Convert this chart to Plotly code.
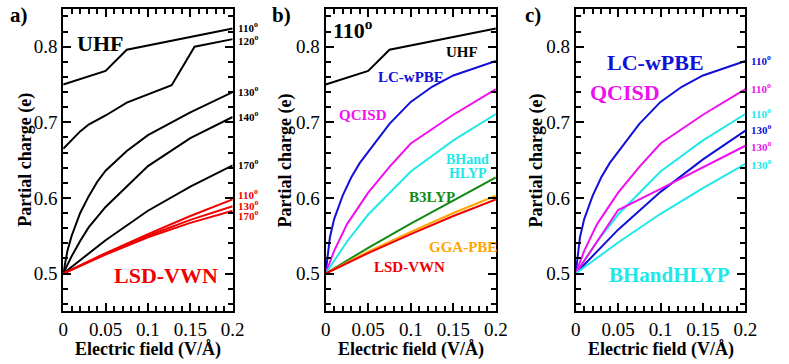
import plotly.graph_objects as go

# ---- data ----
# panel a: UHF (black) and LSD-VWN (red) for several angles
uhf110_x = [0, 0.01, 0.02, 0.03, 0.05, 0.075, 0.1, 0.125, 0.15, 0.175, 0.2]
uhf110_y = [0.75, 0.7536, 0.7572, 0.7608, 0.768, 0.796, 0.8015, 0.807, 0.8125, 0.818, 0.824]
uhf120_x = [0, 0.01, 0.02, 0.03, 0.05, 0.075, 0.1, 0.128, 0.155, 0.2]
uhf120_y = [0.665, 0.677, 0.688, 0.697, 0.709, 0.726, 0.737, 0.749, 0.800, 0.81]
uhf130_x = [0, 0.005, 0.01, 0.02, 0.03, 0.04, 0.05, 0.075, 0.1, 0.15, 0.2]
uhf130_y = [0.5, 0.53, 0.55, 0.58, 0.602, 0.621, 0.636, 0.662, 0.683, 0.713, 0.74]
uhf140_x = [0, 0.01, 0.02, 0.03, 0.05, 0.1, 0.15, 0.2]
uhf140_y = [0.5, 0.523, 0.543, 0.561, 0.588, 0.642, 0.679, 0.707]
coarse_x = [0, 0.05, 0.1, 0.15, 0.2]
uhf170_y = [0.5, 0.544, 0.583, 0.615, 0.643]
lsd110_y = [0.5, 0.527, 0.552, 0.576, 0.598]
lsd130_y = [0.5, 0.526, 0.55, 0.571, 0.589]
lsd170_y = [0.5, 0.525, 0.548, 0.567, 0.583]

# panel b: 110 deg, several methods
lcwpbe110_x = [0, 0.005, 0.01, 0.02, 0.03, 0.04, 0.05, 0.075, 0.1, 0.125, 0.15, 0.175, 0.2]
lcwpbe110_y = [0.5, 0.548, 0.572, 0.603, 0.627, 0.646, 0.661, 0.698, 0.727, 0.747, 0.762, 0.772, 0.781]
qcisd110_x = [0, 0.01, 0.025, 0.05, 0.075, 0.1, 0.15, 0.2]
qcisd110_y = [0.5, 0.53, 0.565, 0.607, 0.641, 0.672, 0.71, 0.744]
bhh110_x = [0, 0.025, 0.05, 0.1, 0.15, 0.2]
bhh110_y = [0.5, 0.542, 0.578, 0.635, 0.676, 0.711]
b3lyp110_y = [0.5, 0.534, 0.566, 0.597, 0.627]
pbe110_y = [0.5, 0.529, 0.555, 0.58, 0.603]

# panel c: 130 deg for the hybrid/correlated methods
lcwpbe130_y = [0.5, 0.558, 0.608, 0.651, 0.689]
qcisd130_y = [0.5, 0.584, 0.612, 0.641, 0.669]
bhh130_y = [0.5, 0.541, 0.579, 0.613, 0.645]

BLACK = "#000000"
RED = "#f00000"
BLUE = "#1010d8"
MAGENTA = "#ee10ee"
CYAN = "#20e8e8"
GREEN = "#138a13"
ORANGE = "#ffa500"

FONT = "Liberation Serif, Times New Roman, Times, serif"
W, H = 789, 364

fig = go.Figure()


def add_line(x, y, color, n):
    fig.add_trace(go.Scatter(
        x=x, y=y, mode="lines", line={"color": color, "width": 2},
        xaxis=f"x{n}" if n > 1 else "x", yaxis=f"y{n}" if n > 1 else "y",
        showlegend=False, hoverinfo="skip",
    ))


# panel a
for xs, ys in [(uhf110_x, uhf110_y), (uhf120_x, uhf120_y), (uhf130_x, uhf130_y),
               (uhf140_x, uhf140_y), (coarse_x, uhf170_y)]:
    add_line(xs, ys, BLACK, 1)
for ys in [lsd110_y, lsd130_y, lsd170_y]:
    add_line(coarse_x, ys, RED, 1)

# panel b
add_line(uhf110_x, uhf110_y, BLACK, 2)
add_line(lcwpbe110_x, lcwpbe110_y, BLUE, 2)
add_line(qcisd110_x, qcisd110_y, MAGENTA, 2)
add_line(bhh110_x, bhh110_y, CYAN, 2)
add_line(coarse_x, b3lyp110_y, GREEN, 2)
add_line(coarse_x, pbe110_y, ORANGE, 2)
add_line(coarse_x, lsd110_y, RED, 2)

# panel c
add_line(lcwpbe110_x, lcwpbe110_y, BLUE, 3)
add_line(qcisd110_x, qcisd110_y, MAGENTA, 3)
add_line(bhh110_x, bhh110_y, CYAN, 3)
add_line(coarse_x, lcwpbe130_y, BLUE, 3)
add_line(coarse_x, qcisd130_y, MAGENTA, 3)
add_line(coarse_x, bhh130_y, CYAN, 3)

# plot areas in pixels
left_px = [59.5, 327.7, 583.3]
right_px = [232.7, 501.7, 756.7]
top_px, bot_px = 8.9, 311.3

axis_common = dict(
    showline=True, linecolor="black", linewidth=2, mirror="allticks",
    ticks="inside", ticklen=8, tickwidth=1.5, tickcolor="black",
    showgrid=False, zeroline=False,
    tickfont={"family": FONT, "size": 19, "color": "black"},
)

layout = dict(
    width=W, height=H, margin={"l": 0, "r": 0, "t": 0, "b": 0},
    paper_bgcolor="white", plot_bgcolor="white",
    font={"family": FONT, "color": "black"},
)
for i in range(3):
    sx = "" if i == 0 else str(i + 1)
    layout[f"xaxis{sx}"] = dict(
        axis_common, domain=[left_px[i] / W, right_px[i] / W], range=[0, 0.2],
        tickvals=[0, 0.05, 0.1, 0.15, 0.2], ticktext=["0", "0.05", "0.1", "0.15", "0.2"],
        minor={"dtick": 0.01, "ticks": "inside", "ticklen": 5, "tickwidth": 1.5,
               "tickcolor": "black"},
        anchor=f"y{sx}",
    )
    layout[f"yaxis{sx}"] = dict(
        axis_common, domain=[1 - bot_px / H, 1 - top_px / H], range=[0.45, 0.85],
        tickvals=[0.5, 0.6, 0.7, 0.8], ticktext=["0.5", "0.6", "0.7", "0.8"],
        minor={"tickvals": [0.46, 0.48, 0.52, 0.54, 0.56, 0.58, 0.62, 0.64, 0.66, 0.68,
                            0.72, 0.74, 0.76, 0.78, 0.82, 0.84],
               "ticks": "inside", "ticklen": 5, "tickwidth": 1.5, "tickcolor": "black"},
        anchor=f"x{sx}",
    )
fig.update_layout(**layout)

anns = []


def px(x, y, text, color, size, xanchor="center"):
    anns.append(dict(
        text=text, x=x / W, y=1 - y / H, xref="paper", yref="paper",
        showarrow=False, xanchor=xanchor, yanchor="middle",
        font={"family": FONT, "size": size, "color": color},
    ))


def side(n, text, yv, color):
    sx = "" if n == 1 else str(n)
    anns.append(dict(
        text=text, x=1.02, y=yv, xref=f"x{sx} domain", yref=f"y{sx}",
        showarrow=False, xanchor="left", yanchor="middle",
        font={"family": FONT, "size": 11, "color": color},
    ))


deg = "<sup>o</sup>"

# panel letters
px(14, 15, "<b>a)</b>", BLACK, 21)
px(283, 15, "<b>b)</b>", BLACK, 21)
px(540, 15, "<b>c)</b>", BLACK, 21)

# axis titles
for i, xc in enumerate([21, 286.5, 543]):
    anns.append(dict(
        text="<b>Partial charge (e)</b>", x=xc / W, y=1 - (top_px + bot_px) / 2 / H,
        xref="paper", yref="paper", showarrow=False, textangle=-90,
        xanchor="center", yanchor="middle",
        font={"family": FONT, "size": 18, "color": "black"},
    ))
    px((left_px[i] + right_px[i]) / 2, 349, "<b>Electric field (V/Å)</b>", BLACK, 18)

# panel a texts
px(97, 43, "<b>UHF</b>", BLACK, 22)
px(165, 275, "<b>LSD-VWN</b>", RED, 22)
for ang, yv, col in [("110", 0.826, BLACK), ("120", 0.809, BLACK), ("130", 0.741, BLACK),
                     ("140", 0.708, BLACK), ("170", 0.645, BLACK),
                     ("110", 0.605, RED), ("130", 0.591, RED), ("170", 0.577, RED)]:
    side(1, f"<b>{ang}{deg}</b>", yv, col)

# panel b texts
px(356, 29, "<b>110" + deg + "</b>", BLACK, 22)
px(467, 52, "<b>UHF</b>", BLACK, 15)
px(415, 77, "<b>LC-wPBE</b>", BLUE, 15)
px(366, 115, "<b>QCISD</b>", MAGENTA, 15)
px(473, 159, "<b>BHand</b>", CYAN, 14)
px(473, 173, "<b>HLYP</b>", CYAN, 14)
px(436, 197, "<b>B3LYP</b>", GREEN, 15)
px(468, 247, "<b>GGA-PBE</b>", ORANGE, 15)
px(413, 267, "<b>LSD-VWN</b>", RED, 15)

# panel c texts
px(665, 62, "<b>LC-wPBE</b>", BLUE, 22)
px(634, 92, "<b>QCISD</b>", MAGENTA, 22)
px(679, 275, "<b>BHandHLYP</b>", CYAN, 21)
for ang, yv, col in [("110", 0.782, BLUE), ("110", 0.745, MAGENTA), ("110", 0.712, CYAN),
                     ("130", 0.691, BLUE), ("130", 0.668, MAGENTA), ("130", 0.645, CYAN)]:
    side(3, f"<b>{ang}{deg}</b>", yv, col)

fig.update_layout(annotations=anns)

fig.write_html("out.html", config={"displayModeBar": False},
               post_script="document.body.style.margin='0';")
